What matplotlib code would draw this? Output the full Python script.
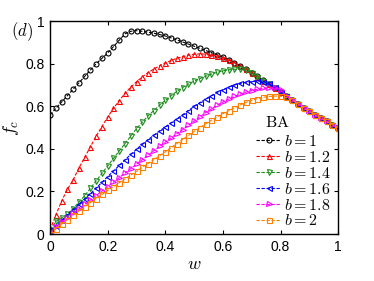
import numpy as np
import matplotlib
matplotlib.use("Agg")
import matplotlib.pyplot as plt

plt.rcParams['font.family'] = ['Liberation Sans', 'DejaVu Sans']
plt.rcParams['mathtext.fontset'] = 'cm'

w = np.round(np.arange(0, 1.0001, 0.02), 2)

# common tail once all curves have merged (w >= 0.80)
tail = [0.668, 0.649, 0.631, 0.612, 0.594, 0.576, 0.56, 0.544, 0.529, 0.514, 0.5]

f_b10 = [0.56, 0.59, 0.62, 0.65, 0.68, 0.71, 0.74, 0.77, 0.80, 0.825,
         0.85, 0.88, 0.91, 0.94, 0.952, 0.955, 0.952, 0.948, 0.943, 0.937,
         0.93, 0.921, 0.912, 0.902, 0.892, 0.882, 0.872, 0.862, 0.852, 0.842,
         0.83, 0.818, 0.805, 0.79, 0.774, 0.757, 0.74, 0.722, 0.704, 0.686] + tail
f_b12 = [0.02, 0.09, 0.155, 0.21, 0.255, 0.31, 0.36, 0.41, 0.46, 0.505,
         0.55, 0.59, 0.627, 0.66, 0.69, 0.715, 0.738, 0.758, 0.775, 0.79,
         0.803, 0.815, 0.825, 0.833, 0.84, 0.844, 0.846, 0.845, 0.842, 0.836,
         0.828, 0.816, 0.803, 0.789, 0.773, 0.756, 0.739, 0.721, 0.703, 0.685] + tail
f_b14 = [0.02, 0.06, 0.075, 0.095, 0.12, 0.15, 0.18, 0.215, 0.25, 0.285,
         0.32, 0.355, 0.39, 0.425, 0.46, 0.495, 0.525, 0.555, 0.58, 0.605,
         0.628, 0.65, 0.67, 0.688, 0.704, 0.718, 0.73, 0.741, 0.751, 0.759,
         0.766, 0.771, 0.774, 0.773, 0.768, 0.756, 0.739, 0.721, 0.703, 0.685] + tail
f_b16 = [0.02, 0.04, 0.065, 0.09, 0.115, 0.14, 0.165, 0.19, 0.216, 0.243,
         0.27, 0.296, 0.322, 0.348, 0.374, 0.398, 0.421, 0.443, 0.464, 0.484,
         0.503, 0.522, 0.541, 0.56, 0.58, 0.599, 0.617, 0.634, 0.65, 0.665,
         0.678, 0.69, 0.70, 0.707, 0.712, 0.716, 0.718, 0.716, 0.707, 0.69] + tail
f_b18 = [0.01, 0.033, 0.055, 0.076, 0.097, 0.118, 0.139, 0.16, 0.181, 0.202,
         0.223, 0.244, 0.265, 0.286, 0.307, 0.328, 0.349, 0.37, 0.391, 0.412,
         0.432, 0.452, 0.471, 0.49, 0.51, 0.53, 0.55, 0.57, 0.588, 0.605,
         0.62, 0.634, 0.646, 0.657, 0.666, 0.674, 0.68, 0.684, 0.686, 0.685,
         0.678] + tail[1:]
f_b20 = [0.0, 0.025, 0.047, 0.068, 0.088, 0.108, 0.128, 0.148, 0.167, 0.186,
         0.205, 0.223, 0.241, 0.259, 0.277, 0.295, 0.313, 0.331, 0.349, 0.368,
         0.387, 0.406, 0.425, 0.444, 0.463, 0.482, 0.50, 0.517, 0.534, 0.55,
         0.565, 0.579, 0.593, 0.606, 0.618, 0.628, 0.636, 0.642, 0.646, 0.648,
         0.647, 0.642, 0.631] + tail[3:]

series = [f_b10, f_b12, f_b14, f_b16, f_b18, f_b20]
labels = ['$b=1$', '$b=1.2$', '$b=1.4$', '$b=1.6$', '$b=1.8$', '$b=2$']
colors = ['black', 'red', '#1a8c1a', 'blue', 'magenta', '#ff8000']
markers = ['o', '^', 'v', '<', '>', 's']

fig = plt.figure(figsize=(3.74, 2.81), dpi=100)
ax = fig.add_axes([0.134, 0.167, 0.770, 0.758])

for f, lab, c, m in zip(series, labels, colors, markers):
    ax.plot(w, f, linestyle='--', dashes=(3, 1.5), linewidth=0.8, color=c,
            marker=m, markersize=3.6, markerfacecolor='none',
            markeredgewidth=0.8, label=lab)

ax.set_xlim(0, 1)
ax.set_ylim(0, 1)
ax.set_xticks([0, 0.2, 0.4, 0.6, 0.8, 1])
ax.set_xticklabels(['0', '0.2', '0.4', '0.6', '0.8', '1'])
ax.set_yticks([0, 0.2, 0.4, 0.6, 0.8, 1])
ax.set_yticklabels(['0', '0.2', '0.4', '0.6', '0.8', '1'])
ax.tick_params(direction='in', top=True, right=True, length=3, width=0.8,
               labelsize=10, pad=4)
for s in ax.spines.values():
    s.set_linewidth(1.0)

ax.set_xlabel('$w$', fontsize=13, labelpad=2)
ax.set_ylabel('$f_c$', fontsize=13, labelpad=3)

leg = ax.legend(loc='lower right', bbox_to_anchor=(0.995, 0.0), frameon=False,
                fontsize=11.5, handlelength=1.55, handletextpad=0.2,
                labelspacing=0.06, borderaxespad=0.0, borderpad=0.35)
ax.text(0.788, 0.526, '$\\mathrm{BA}$', transform=ax.transAxes, fontsize=11.5,
        ha='center', va='center')

fig.text(0.059, 0.886, '$(d)$', fontsize=12, ha='center', va='center')

fig.savefig('out.png', dpi=100)
